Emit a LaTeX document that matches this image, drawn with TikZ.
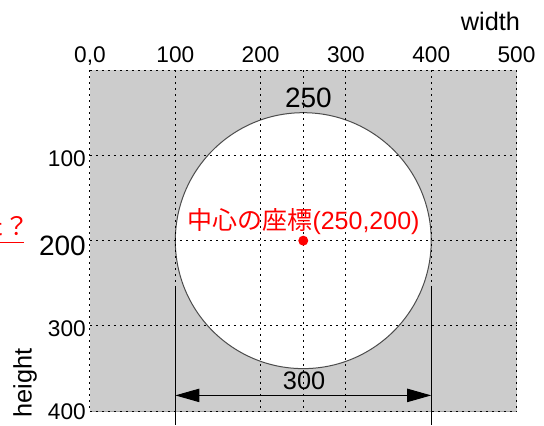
\documentclass[tikz,border=0pt]{standalone}
\usepackage{fontspec}
\setmainfont{Liberation Sans}
\newfontfamily\cjk{Noto Sans CJK JP}
\usetikzlibrary{arrows.meta}
\tikzset{every node/.style={inner sep=0pt}, % Labels sit exactly at their anchors
ticklabel/.style={font=\fontsize{17}{17}\selectfont},
bigticklabel/.style={font=\fontsize{21}{21}\selectfont},
axislabel/.style={font=\fontsize{19}{19}\selectfont},
gridline/.style={line width=0.75pt, dash pattern=on 1.5pt off 3pt},
dimline/.style={line width=0.75pt},
dimarrow/.style={line width=0.75pt,
{Triangle[length=18pt,width=10pt]}-{Triangle[length=18pt,width=10pt]}},
redlabel/.style={red, font=\fontsize{18.75}{18.75}\selectfont}}

\begin{document}
\begin{tikzpicture}[x=0.64pt, y=-0.64pt]
    \useasboundingbox (-105.5,-82.1) rectangle (532.2,416.2);
    
    % canvas and circle
    \fill[black!20] (0,0) rectangle (500,400);
    \draw[black!35, line width=0.5pt] (0,400) -- (500,400);
    \draw[black!70, fill=white, line width=0.75pt] (250,200) circle[radius=150];
    
    % grid
    \foreach \x in {0,100,200,250,300,400,500}
        \draw[gridline] (\x,0) -- (\x,400);
    \foreach \y in {0,100,...,400}
        \draw[gridline] (0,\y) -- (500,\y);
    
    % axis labels
    \node[ticklabel, anchor=base] (top0) at (0,-9.4) {0,0};
    \foreach \x in {100,200,300,400,500}
        \node[ticklabel, anchor=base] (top\x) at (\x,-9.4) {\x};
    \node[axislabel, anchor=base] (width) at (469.5,-46) {width};
    \node[bigticklabel, anchor=base] (top250) at (256,43.8) {250};
    \node[ticklabel, anchor=base east] (left100) at (-4.7,113.4) {100};
    \node[bigticklabel, anchor=base east] (left200) at (-4.7,216.9) {200};
    \node[ticklabel, anchor=base east] (left300) at (-4.7,312.6) {300};
    \node[ticklabel, anchor=base east] (left400) at (-4.7,409.5) {400};
    \node[axislabel, rotate=90] (height) at (-76.2,367) {height};
    
    % diameter
    \coordinate (Ltop) at (100,254.4);
    \coordinate (Lbot) at (100,416.2);
    \coordinate (Rtop) at (400,254.4);
    \coordinate (Rbot) at (400,416.2);
    \draw[dimline] (Ltop) -- (Lbot);
    \draw[dimline] (Rtop) -- (Rbot);
    \coordinate (L) at (100,381.4);
    \coordinate (R) at (400,381.4);
    \draw[dimarrow] (L) -- (R);
    \node[axislabel, anchor=base] (diam) at (251,374.4) {300};
    
    % centre
    \fill[red] (250,200) circle[radius=3.75pt];
    \node[redlabel, anchor=base] (centre) at (250.3,186.4) {{\cjk 中心の座標}(250,200)};
    \node[redlabel, anchor=base east, font=\cjk\fontsize{18.75}{18.75}\selectfont] (ask) at (-70.3,194) {た？};
    \draw[red, line width=1pt] (-106,202.4) -- (-77.4,202.4);
    
\end{tikzpicture}
\end{document}
